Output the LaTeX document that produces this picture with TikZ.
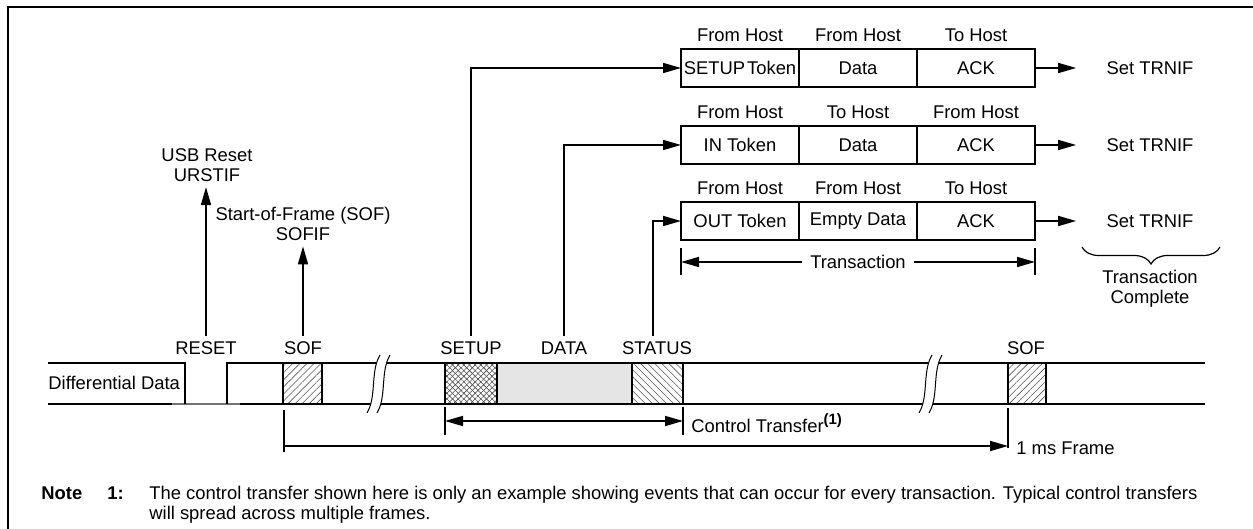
\documentclass[tikz,border=0pt]{standalone}
\usepackage{fontspec}
\setmainfont{Liberation Sans}
\usetikzlibrary{positioning,arrows.meta,patterns.meta,decorations.pathreplacing}

\begin{document}
\begin{tikzpicture}[x=0.5pt,y=-0.5pt]
  \tikzstyle{every node}=[inner sep=2.5pt, align=center, font=\fontsize{9.2}{10.2}\selectfont];
  \tikzstyle{cell}=[draw, line width=0.8pt, minimum width=59pt, minimum height=19pt, inner sep=0pt, outer sep=0pt];
  \tikzstyle{hdr}=[inner sep=1pt, label distance=2.5pt];
  \tikzstyle{bus}=[line width=0.8pt];
  \tikzstyle{arr}=[line width=0.8pt, -{Triangle[length=9pt,width=5pt]}];
  \tikzstyle{darr}=[line width=0.8pt, {Triangle[length=9pt,width=5pt]}-{Triangle[length=9pt,width=5pt]}];
  \tikzstyle{hatch}=[pattern={Lines[angle=45,distance=2.5pt,line width=0.3pt]}, pattern color=black!65];
  \tikzstyle{backhatch}=[pattern={Lines[angle=-45,distance=2.5pt,line width=0.3pt]}, pattern color=black!65];

  \useasboundingbox (0,0) rectangle (1253,529);
  \draw[line width=0.9pt] (1253,7) -- (8,7) -- (8,529);

  % transactions
  \node[cell, label={[hdr]above:From Host}] (setup) at (740,68) {SETUP\kern1pt Token};
  \node[cell, right=0pt of setup, label={[hdr]above:From Host}] (data1) {Data};
  \node[cell, right=0pt of data1, label={[hdr]above:To Host}] (ack1) {ACK};
  \node[cell, label={[hdr]above:From Host}] (intok) at (740,145) {IN Token};
  \node[cell, right=0pt of intok, label={[hdr]above:To Host}] (data2) {Data};
  \node[cell, right=0pt of data2, label={[hdr]above:From Host}] (ack2) {ACK};
  \node[cell, label={[hdr]above:From Host}] (outtok) at (740,221) {OUT Token};
  \node[cell, right=0pt of outtok, label={[hdr]above:From Host}] (empty) {Empty Data};
  \node[cell, right=0pt of empty, label={[hdr]above:To Host}] (ack3) {ACK};

  \node (set1) at (1150,68) {Set TRNIF};
  \node (set2) at (1150,145) {Set TRNIF};
  \node (set3) at (1150,221) {Set TRNIF};
  \draw[arr, shorten >=12.5pt] (ack1.east) -- (set1);
  \draw[arr, shorten >=12.5pt] (ack2.east) -- (set2);
  \draw[arr, shorten >=12.5pt] (ack3.east) -- (set3);

  \draw[line width=0.6pt, decorate, decoration={brace, amplitude=8.5pt}] (1220,247) -- (1082,247);
  \node (done) at (1150,289) {Transaction\\Complete};

  \draw[bus] ([yshift=-4pt]outtok.south west) -- ++(0,27);
  \draw[bus] ([yshift=-4pt]ack3.south east) -- ++(0,27);
  \node[inner sep=4pt] (tralbl) at (858,262) {Transaction};
  \draw[arr] (tralbl.west) -- (tralbl.west -| outtok.west);
  \draw[arr] (tralbl.east) -- (tralbl.east -| ack3.east);

  % differential data
  \fill[hatch] (283,363) rectangle (322,404);
  \fill[hatch] (1008,363) rectangle (1046,404);
  \fill[pattern={Lines[angle=45,distance=2pt,line width=0.3pt]}, pattern color=black!70] (445,363) rectangle (497,404);
  \fill[pattern={Lines[angle=-45,distance=2pt,line width=0.3pt]}, pattern color=black!70] (445,363) rectangle (497,404);
  \fill[black!10] (497,363) rectangle (632,404);
  \fill[backhatch] (632,363) rectangle (683,404);

  \draw[bus, black!55] (172,404) -- (240,404);
  \draw[bus] (48,363) -- (185,363) -- (185,404);
  \draw[bus] (48,404) -- (172,404);
  \draw[bus] (240,404) -- (1205,404);
  \draw[bus] (227,404) -- (227,363) -- (1205,363);
  \draw[bus] (283,363) -- (283,404) (322,363) -- (322,404);
  \draw[bus] (1008,363) -- (1008,404) (1046,363) -- (1046,404);
  \draw[bus] (445,363) -- (445,404) (497,363) -- (497,404);
  \draw[bus] (632,363) -- (632,404) (683,363) -- (683,404);

  \foreach \cx in {375,927} {
    \fill[white] (\cx+5,355) .. controls (\cx-5,372) and (\cx+2,396) .. (\cx-8,413) -- (\cx+2,413) .. controls (\cx+12,396) and (\cx+5,372) .. (\cx+15,355) -- cycle;
    \draw[line width=0.5pt] (\cx+5,355) .. controls (\cx-5,372) and (\cx+2,396) .. (\cx-8,413);
    \draw[line width=0.5pt] (\cx+15,355) .. controls (\cx+5,372) and (\cx+12,396) .. (\cx+2,413);
  }

  \node[anchor=west] (diff) at (43,383) {Differential Data};
  \node (reset) at (206,348) {RESET};
  \node (sof1) at (303,348) {SOF};
  \node (setuplbl) at (471,348) {SETUP};
  \node (datalbl) at (564,348) {DATA};
  \node (statuslbl) at (657,348) {STATUS};
  \node (sof2) at (1026,348) {SOF};

  % interrupt flags
  \node (usbrst) at (207,165) {USB Reset\\URSTIF};
  \node (sofif) at (303,224) {Start-of-Frame (SOF)\\SOFIF};
  \draw[arr] (reset.north) -- (reset.north |- usbrst.south);
  \draw[arr] (sof1.north) -- (sofif.south);
  \draw[arr] (setuplbl.north) |- (setup.west);
  \draw[arr] (datalbl.north) |- (intok.west);
  \draw[arr] ([xshift=-2pt]statuslbl.north) |- (outtok.west);

  % control transfer and frame
  \coordinate (ctA) at (445,421);
  \coordinate (ctB) at (683,421);
  \draw[darr] (ctA) -- (ctB);
  \draw[bus] ([yshift=7pt]ctA) -- ([yshift=-7pt]ctA);
  \draw[bus] ([yshift=7pt]ctB) -- ([yshift=-7pt]ctB);
  \node[anchor=west] (ctlbl) at (686,423) {Control Transfer\textsuperscript{\fontsize{7.5}{8}\selectfont\textbf{(1)}}};

  \coordinate (fmA) at (284,446);
  \coordinate (fmB) at (1008,446);
  \draw[arr] (fmA) -- (fmB);
  \draw[bus] ([yshift=18pt]fmA) -- ([yshift=-3pt]fmA);
  \draw[bus] ([yshift=19pt]fmB) -- ([yshift=-1pt]fmB);
  \node[anchor=west] (fmlbl) at (1011,448) {1 ms Frame};

  % note
  \node[anchor=base west] (note) at (36,499) {\textbf{Note}};
  \node[anchor=base west] (notenum) at (102,499) {\textbf{1:}};
  \node[anchor=base west] (notea) at (144,499) {The control transfer shown here is only an example showing events that can occur for every transaction. Typical control transfers};
  \node[anchor=base west] (noteb) at (144,519) {will spread across multiple frames.};
\end{tikzpicture}
\end{document}
